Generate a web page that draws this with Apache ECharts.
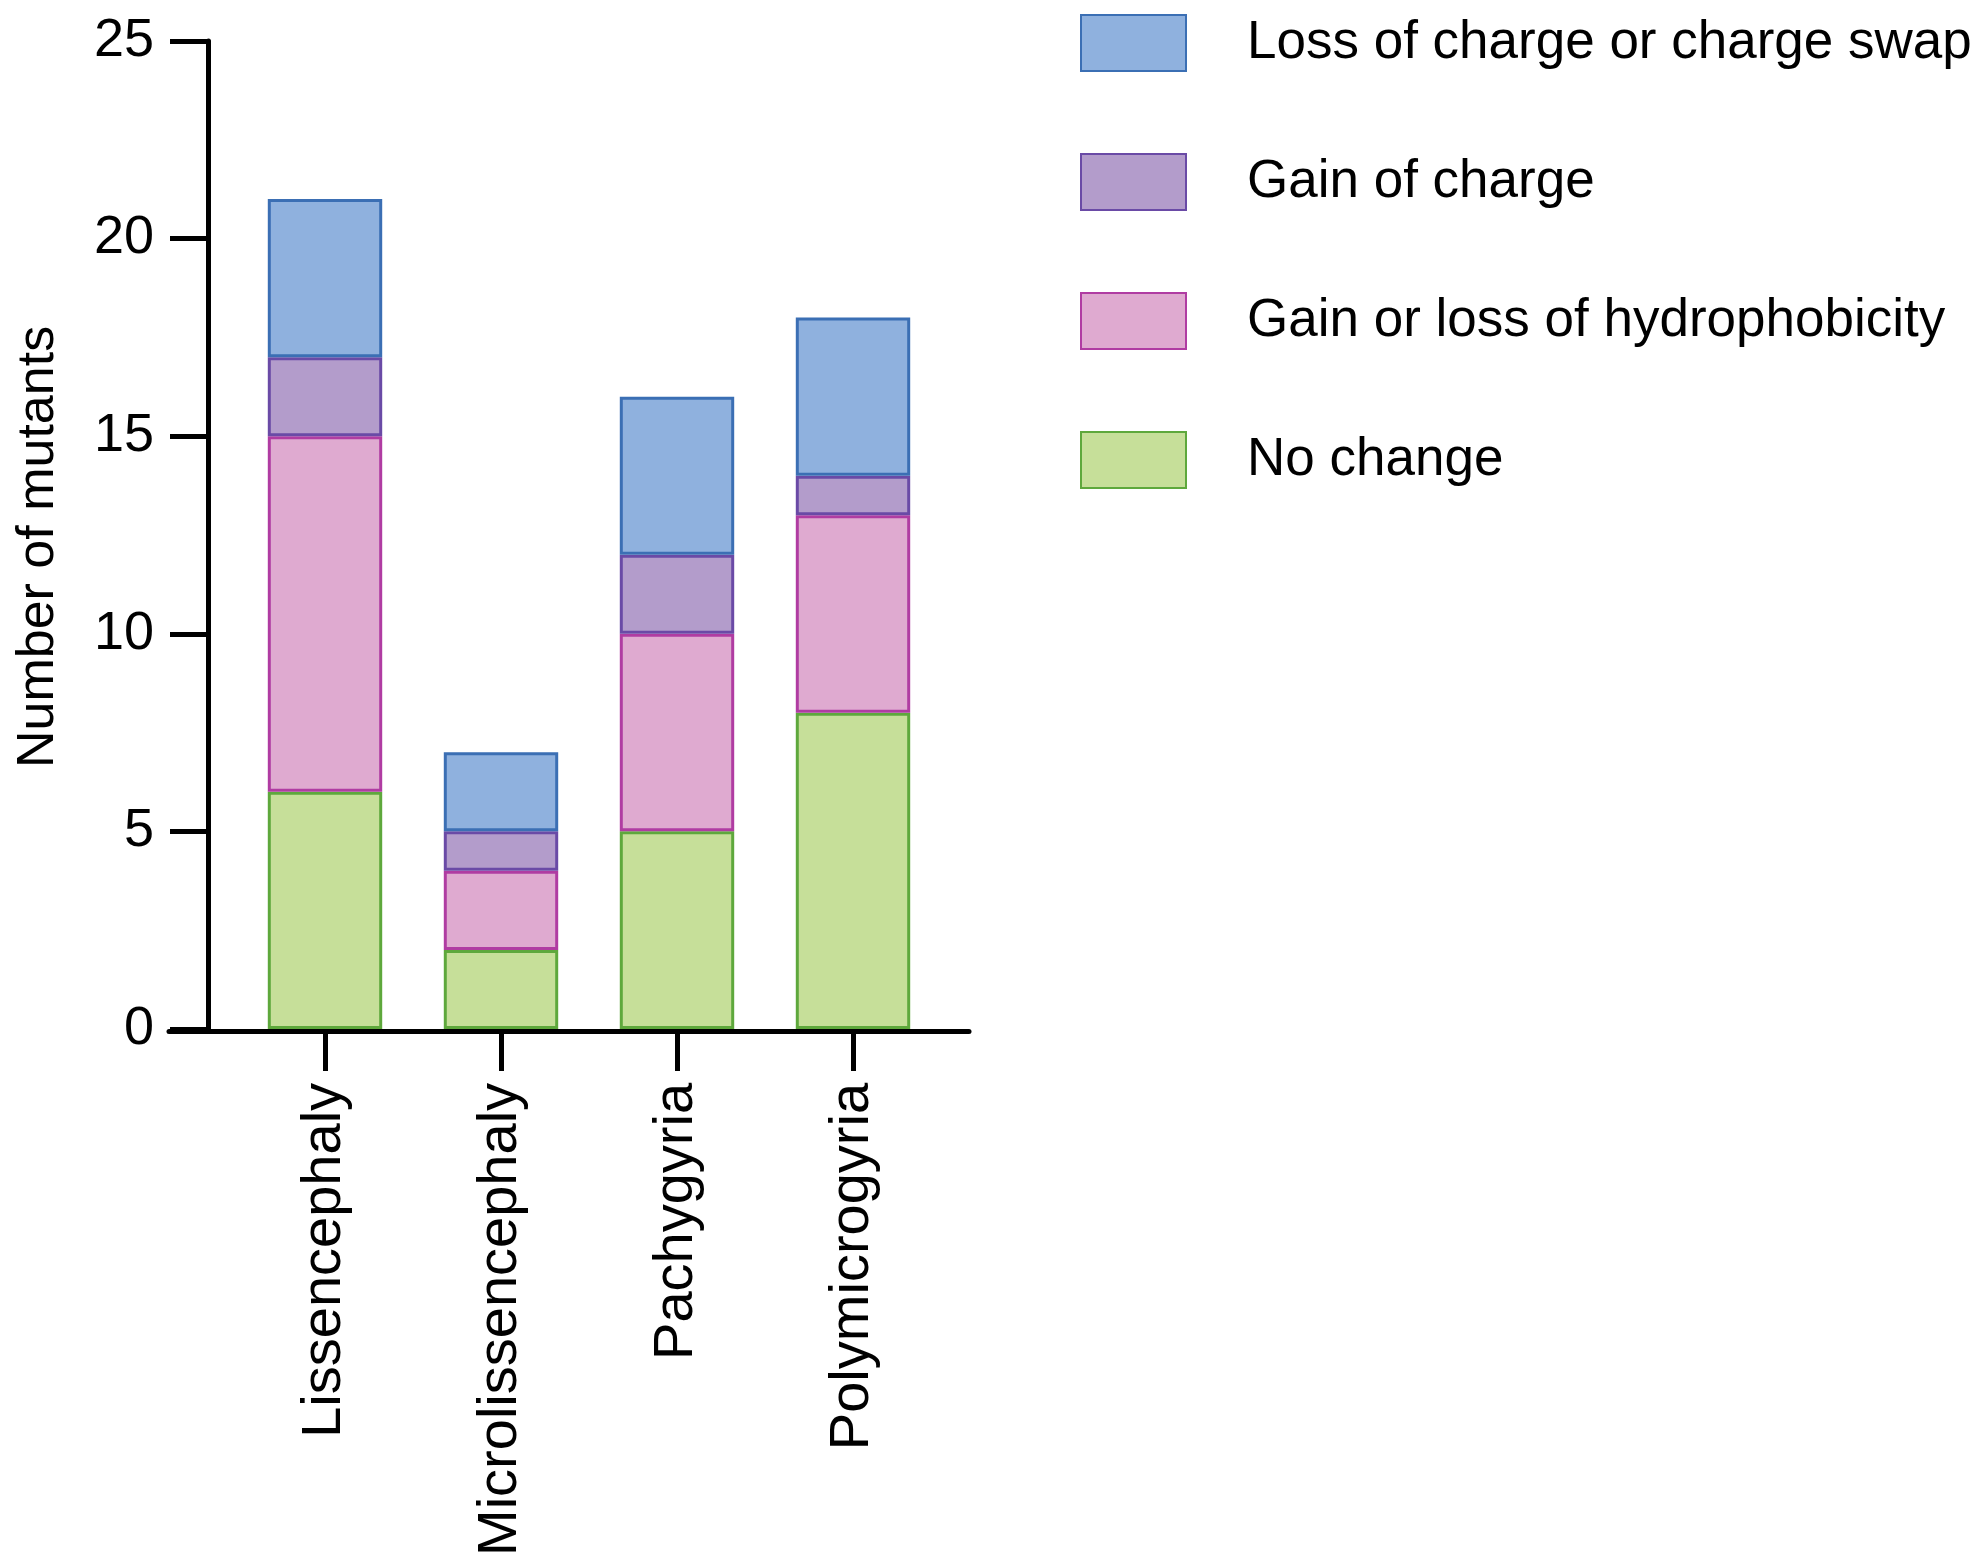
<!DOCTYPE html>
<html>
<head>
<meta charset="utf-8">
<script src="https://cdn.jsdelivr.net/npm/echarts@6/dist/echarts.min.js"></script>
<style>
  html, body { margin: 0; padding: 0; background: #fff; }
  #main { width: 1983px; height: 1559px; }
</style>
</head>
<body>
<div id="main"></div>
<script>
// disorders on the x axis
var categories = ['Lissencephaly', 'Microlissencephaly', 'Pachygyria', 'Polymicrogyria'];
// stacked from the bottom up
var noChange = [6, 2, 5, 8];
var hydrophobicity = [9, 2, 5, 5];
var gainCharge = [2, 1, 2, 1];
var lossCharge = [4, 2, 4, 4];
var yTicks = [0, 5, 10, 15, 20, 25];

var FONT = '"Liberation Sans", Arial, sans-serif';

function seg(name, data, fill, border) {
  return {
    name: name,
    type: 'bar',
    stack: 'total',
    xAxisIndex: 0,
    yAxisIndex: 0,
    barWidth: '65%',
    data: data,
    itemStyle: { color: fill, borderColor: border, borderWidth: 3 }
  };
}

var chart = echarts.init(document.getElementById('main'));
chart.setOption({
  backgroundColor: '#fff',
  animation: false,
  textStyle: { fontFamily: FONT, color: '#000' },
  legend: {
    orient: 'vertical',
    left: 1080,
    top: 14,
    padding: 0,
    itemWidth: 105,
    itemHeight: 56,
    itemGap: 81,
    icon: 'rect',
    selectedMode: false,
    textStyle: { fontSize: 53, color: '#000', fontFamily: FONT, padding: [0, 0, 0, 56] },
    data: ['Loss of charge or charge swap', 'Gain of charge', 'Gain or loss of hydrophobicity', 'No change']
  },
  grid: [
    { left: 237, width: 704, top: 41, bottom: 528 },
    // only carries the long baseline that runs past the y axis
    { left: 169, right: 1014, top: 41, bottom: 528 }
  ],
  xAxis: [
    {
      type: 'category',
      gridIndex: 0,
      data: categories,
      // line kept invisible: the baseline comes from the second grid
      axisLine: { show: true, lineStyle: { color: 'rgba(0,0,0,0)', width: 5 } },
      axisTick: { show: true, alignWithLabel: true, length: 42, lineStyle: { color: '#000', width: 5 } },
      axisLabel: { rotate: 90, margin: 54, fontSize: 56, color: '#000', fontFamily: FONT }
    },
    {
      type: 'value',
      gridIndex: 1,
      axisLine: { show: true, onZero: false, lineStyle: { color: '#000', width: 5 } },
      axisTick: { show: false },
      axisLabel: { show: false },
      splitLine: { show: false }
    }
  ],
  yAxis: [
    {
      type: 'value',
      gridIndex: 0,
      min: yTicks[0],
      max: yTicks[yTicks.length - 1],
      interval: 5,
      offset: 29,
      name: 'Number of mutants',
      nameLocation: 'middle',
      nameGap: 143,
      nameTextStyle: { fontSize: 52, color: '#000', fontFamily: FONT, padding: [0, 24, 0, 0] },
      axisLine: { show: true, lineStyle: { color: '#000', width: 5 } },
      axisTick: { show: true, length: 38, lineStyle: { color: '#000', width: 5 } },
      axisLabel: { margin: 54, fontSize: 54, color: '#000', fontFamily: FONT },
      splitLine: { show: false }
    },
    { type: 'value', gridIndex: 1, show: false }
  ],
  series: [
    seg('No change', noChange, '#c6df99', '#5ea83c'),
    seg('Gain or loss of hydrophobicity', hydrophobicity, '#dfaad0', '#b03ca2'),
    seg('Gain of charge', gainCharge, '#b39ccb', '#6a4aa6'),
    seg('Loss of charge or charge swap', lossCharge, '#8fb1de', '#3b6fb4')
  ]
});
</script>
</body>
</html>
